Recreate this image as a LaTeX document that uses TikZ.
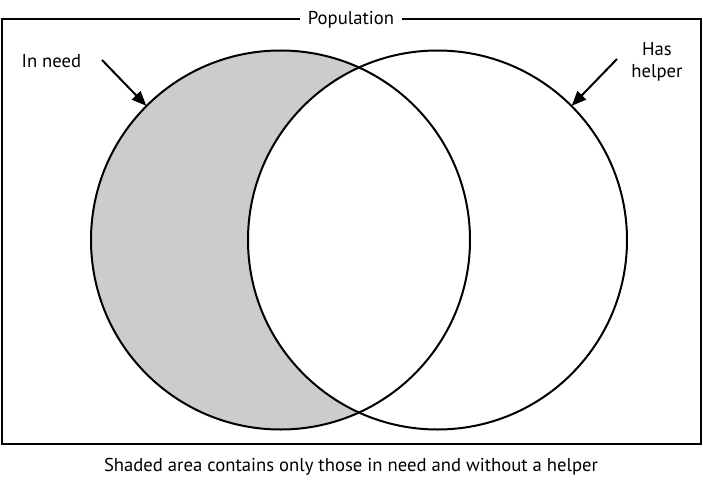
\documentclass[tikz,border=0pt]{standalone}
\usepackage{fontspec}
\setmainfont{PT Sans}
\usetikzlibrary{arrows.meta}
\definecolor{shadegray}{RGB}{204,204,204}
\tikzset{
  lbl/.style={font=\fontsize{14}{17}\selectfont, inner sep=1pt},
  ring/.style={circle, minimum size=284.25pt, inner sep=0pt},
  pointer/.style={line width=1.5pt, -{Triangle[length=11pt,width=9pt]}},
  border/.style={line width=1.5pt}
}
\begin{document}
\begin{tikzpicture}[x=0.75pt,y=-0.75pt]
\useasboundingbox (0,0) rectangle (703,485);
\node[ring] (A) at (280.5,240) {};
\node[ring] (B) at (437.5,240) {};
\fill[shadegray] (A.center) circle[radius=189.5];
\fill[white] (B.center) circle[radius=189.5];
\draw[border] (A.center) circle[radius=189.5];
\draw[border] (B.center) circle[radius=189.5];
\draw[border] (2,19) rectangle (701,444);
\node[lbl, fill=white, inner xsep=6pt] (pop) at (351,20) {Population};
\node[lbl, anchor=west] (need) at (20,61) {In need};
\node[lbl, align=center] (help) at (657,62) {Has\\helper};
\coordinate (needstart) at (102,60);
\coordinate (helpstart) at (617,59);
\draw[pointer] (needstart) -- (A.135);
\draw[pointer] (helpstart) -- (B.45);
\node[lbl] (cap) at (351,467) {Shaded area contains only those in need and without a helper};
\end{tikzpicture}
\end{document}
